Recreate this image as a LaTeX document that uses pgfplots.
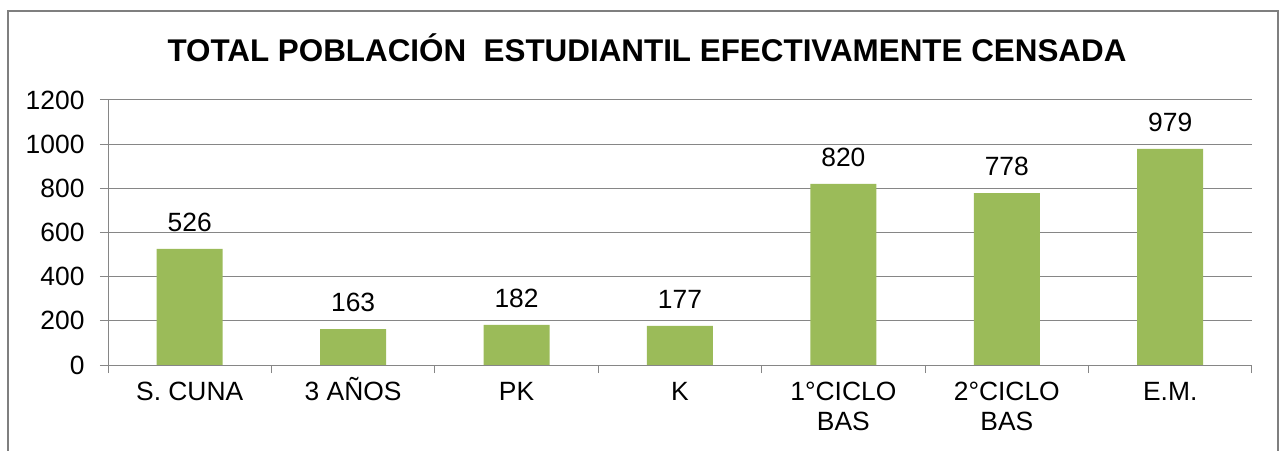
\documentclass[border=0pt]{standalone}
\usepackage{pgfplots}
\pgfplotsset{compat=1.18}
\usepackage{fontspec}
\setmainfont{Liberation Sans}
\definecolor{bargreen}{HTML}{9BBB59}
\definecolor{axgray}{HTML}{868686}
\definecolor{framegray}{HTML}{7F7F7F}

\begin{document}
\begin{tikzpicture}
\path[use as bounding box, clip] (0,0) rectangle (1284bp,451bp);
\draw[framegray, line width=2.5bp] (8bp,-20bp) rectangle (1278bp,440bp);
\node[font=\fontsize{31.5}{36}\selectfont\bfseries] at (647bp,403bp) {TOTAL POBLACIÓN\ \ ESTUDIANTIL EFECTIVAMENTE CENSADA};
\begin{axis}[
    at={(108bp,86bp)}, anchor=south west,
    scale only axis, width=1144bp, height=265bp,
    xmin=-0.5, xmax=6.5, ymin=0, ymax=1200,
    axis x line*=bottom, axis y line*=left,
    axis line style={axgray, line width=1bp, -},
    ybar, bar width=66bp,
    xtick={0,...,6},
    xticklabels={\vphantom{Ñ}S. CUNA, \vphantom{Ñ}3 AÑOS, \vphantom{Ñ}PK, \vphantom{Ñ}K,
      \vphantom{Ñ}1°CICLO\\BAS, \vphantom{Ñ}2°CICLO\\BAS, \vphantom{Ñ}E.M.},
    xticklabel style={align=center, yshift=-1bp},
    major x tick style={draw=none},
    minor xtick={-0.5,0.5,...,6.5},
    minor x tick style={axgray, line width=1bp},
    minor tick length=8bp,
    ytick={0,200,...,1200},
    major tick length=8bp,
    y tick style={axgray, line width=1bp},
    tick align=outside,
    ymajorgrids, grid style={axgray, line width=1bp},
    ticklabel style={font=\fontsize{26.5}{30}\selectfont},
    yticklabel style={xshift=-12bp},
    /pgf/number format/assume math mode=true,
    /pgf/number format/1000 sep={},
    nodes near coords,
    nodes near coords style={font=\fontsize{26.5}{30}\selectfont, yshift=14bp},
    every node near coord/.append style={/pgf/number format/assume math mode=true},
]
\addplot[fill=bargreen, draw=none] coordinates {(0,526)(1,163)(2,182)(3,177)(4,820)(5,778)(6,979)};
\end{axis}
\end{tikzpicture}
\end{document}
